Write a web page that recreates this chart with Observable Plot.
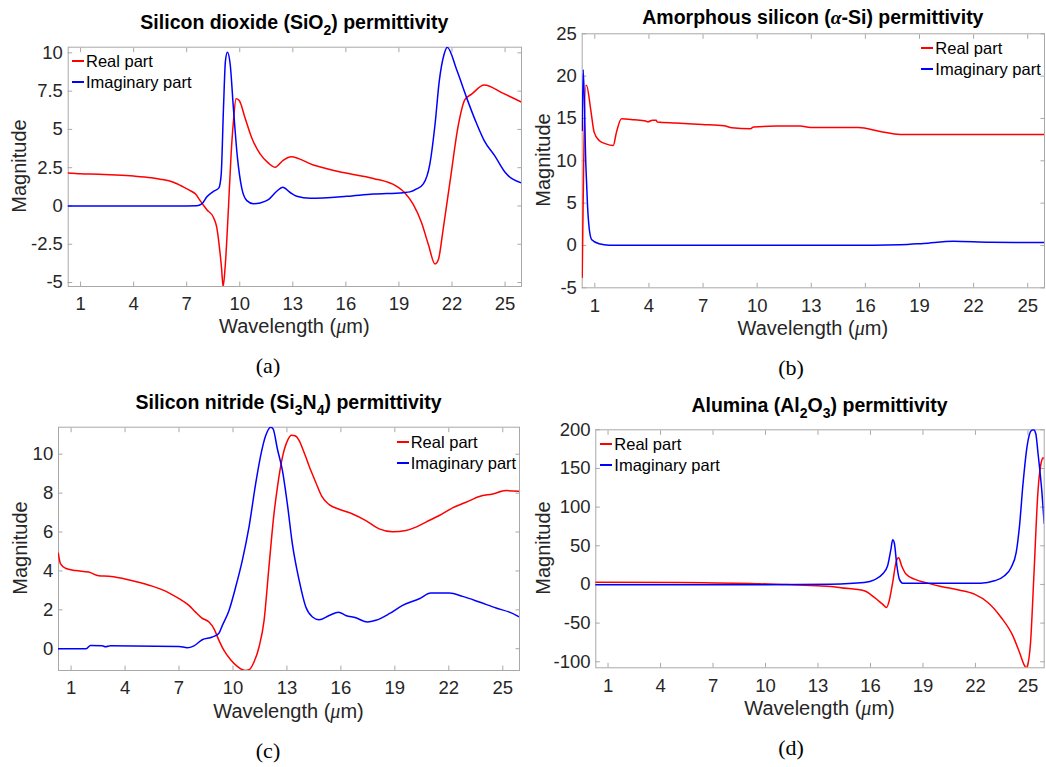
<!DOCTYPE html>
<html>
<head>
<meta charset="utf-8">
<script src="https://cdn.jsdelivr.net/npm/d3@7"></script>
<script src="https://cdn.jsdelivr.net/npm/@observablehq/plot@0.6"></script>
<style>
  body { margin: 0; background: #fff; }
  #root { position: relative; width: 1046px; height: 767px; overflow: hidden; font-family: "Liberation Sans", Arial, sans-serif; background: #fff; }
  .panel { position: absolute; width: 523px; height: 383px; }
  .panel svg { position: absolute; left: 0; top: 0; overflow: visible; }
  .title { position: absolute; font-weight: bold; font-size: 19.5px; line-height: 1; white-space: nowrap; transform: translate(-50%, -50%); color: #000; }
  .title sub { font-size: 0.72em; vertical-align: -0.38em; line-height: 0; }
  .xlabel { position: absolute; font-size: 20px; line-height: 1; color: #262626; transform: translate(-50%, -50%); white-space: nowrap; }
  .ylabel { position: absolute; font-size: 20px; line-height: 1; color: #262626; transform: translate(-50%, -50%) rotate(-90deg); white-space: nowrap; }
  .caption { position: absolute; font-family: "Liberation Serif", "Times New Roman", serif; font-size: 22px; line-height: 1; transform: translate(-50%, -50%); color: #000; }
  .legend { position: absolute; font-size: 16.5px; color: #000; }
  .legend .row { display: flex; align-items: center; height: 20.7px; white-space: nowrap; }
  .legend .sw { display: inline-block; width: 12px; height: 2px; margin-right: 2px; flex: none; }
  .mu { font-family: "Liberation Serif", "Times New Roman", serif; font-style: italic; }
</style>
</head>
<body>
<div id="root"></div>
<script>
// ---------- shared axis values ----------
const xDomain = [0.3, 25.93];
const xTicks = [1, 4, 7, 10, 13, 16, 19, 22, 25];
const seriesNames = ["Real part", "Imaginary part"];
const seriesColors = ["#ff0000", "#0000ff"];

// ---------- (a) Silicon dioxide ----------
const sio2Real = [[0.29,2.16],[1,2.1],[2,2.07],[3,2.02],[4,1.95],[5,1.84],[5.5,1.75],[6.25,1.55],[6.8,1.25],[7.2,1.0],[7.5,0.78],[7.76,0.35],[7.95,0.05],[8.14,-0.25],[8.5,-0.72],[8.7,-1.4],[8.85,-2.7],[8.97,-4.05],[9.06,-5.26],[9.17,-4.05],[9.36,-0.15],[9.51,3.36],[9.64,5.5],[9.79,7.0],[9.96,6.9],[10.3,5.75],[10.68,4.44],[11.15,3.4],[11.62,2.8],[12.0,2.53],[12.47,3.0],[12.9,3.22],[14.16,2.68],[15.86,2.18],[17.55,1.8],[18.87,1.28],[19.34,0.85],[19.81,0.1],[20.28,-1.1],[20.66,-2.5],[21.04,-3.79],[21.23,-3.5],[21.51,-1.44],[21.89,1.6],[22.36,5.3],[22.73,6.95],[23.11,7.3],[23.82,7.9],[24.9,7.35],[25.93,6.78]];
const sio2Imag = [[0.29,0],[4,0],[7,0],[7.57,0.01],[7.85,0.13],[8.14,0.6],[8.51,0.95],[8.82,1.18],[8.95,2.05],[9.08,6.4],[9.19,9.46],[9.3,10.04],[9.46,9.24],[9.64,6.4],[9.87,3.14],[10.11,1.18],[10.4,0.35],[10.77,0.15],[11.15,0.2],[11.62,0.41],[12.09,0.96],[12.43,1.22],[12.85,0.88],[13.22,0.63],[13.98,0.5],[16.05,0.63],[17.55,0.78],[19.25,0.87],[19.62,0.92],[20.0,1.11],[20.38,1.44],[20.75,2.75],[21.04,5.32],[21.28,8.15],[21.55,9.89],[21.73,10.37],[22.26,8.91],[22.83,7.06],[23.3,5.64],[23.82,4.27],[24.43,3.25],[25.0,2.2],[25.93,1.5]];
const sio2YTicks = [-5, -2.5, 0, 2.5, 5, 7.5, 10];
const sio2YDomain = [-5.26, 10.37];

// ---------- (b) Amorphous silicon ----------
const asiReal = [[0.3,-3.74],[0.5,18.9],[0.54,18.9],[0.78,15.94],[0.96,13.39],[1.24,12.4],[1.61,12.0],[2.02,11.81],[2.2,13.39],[2.48,14.96],[3.18,14.84],[3.82,14.69],[3.95,14.6],[4.19,14.8],[4.4,14.78],[4.47,14.57],[5.49,14.45],[6.96,14.29],[8.16,14.13],[8.6,13.9],[9.62,13.78],[9.8,13.98],[11.1,14.1],[12.4,14.1],[12.95,13.94],[15.62,13.94],[16.82,13.46],[17.93,13.11],[25.93,13.11]];
const asiImag = [[0.3,13.58],[0.36,20.75],[0.5,9.64],[0.59,4.92],[0.69,1.97],[0.83,0.67],[1.24,0.2],[1.79,0.04],[5,0.02],[10,0.02],[15,0.02],[17.93,0.08],[19.22,0.24],[20.88,0.51],[22.9,0.39],[25.93,0.35]];
const asiYTicks = [-5, 0, 5, 10, 15, 20, 25];
const asiYDomain = [-5, 25];

// ---------- (c) Silicon nitride ----------
const sinReal = [[0.29,4.91],[0.41,4.37],[0.68,4.14],[1.24,4.02],[1.98,3.94],[2.54,3.75],[3.1,3.72],[3.65,3.65],[4.58,3.46],[5.51,3.22],[6.25,2.96],[7.0,2.57],[7.55,2.23],[7.92,1.88],[8.26,1.59],[8.67,1.37],[8.94,1.03],[9.22,0.43],[9.5,-0.09],[9.87,-0.57],[10.24,-0.91],[10.52,-1.08],[10.7,-1.12],[10.89,-1.08],[11.17,-0.68],[11.45,0.09],[11.73,1.46],[12.0,4.2],[12.28,6.93],[12.47,8.3],[12.75,9.85],[13.03,10.7],[13.25,10.98],[13.45,10.95],[13.68,10.7],[13.95,10.1],[14.33,9.16],[14.6,8.56],[14.94,7.83],[15.35,7.41],[15.9,7.17],[16.65,6.93],[17.39,6.59],[18.13,6.16],[18.87,6.01],[19.62,6.08],[20.17,6.25],[20.73,6.51],[21.47,6.85],[22.21,7.24],[22.96,7.53],[23.7,7.83],[24.44,7.96],[25.18,8.13],[25.93,8.1]];
const sinImag = [[0.29,0],[1.84,0],[2.08,0.17],[2.73,0.15],[2.91,0.1],[3.19,0.15],[7.0,0.12],[7.46,0.05],[7.83,0.15],[8.29,0.46],[8.85,0.6],[9.22,0.8],[9.41,1.2],[9.78,1.97],[10.15,3.17],[10.52,4.54],[10.89,6.25],[11.26,8.48],[11.54,9.93],[11.82,10.96],[12.1,11.39],[12.23,11.3],[12.47,10.27],[12.75,9.16],[13.03,7.4],[13.3,5.4],[13.68,3.51],[14.05,2.14],[14.42,1.63],[14.79,1.49],[15.35,1.71],[15.87,1.88],[16.27,1.71],[16.83,1.59],[17.48,1.37],[17.94,1.46],[18.69,1.8],[19.43,2.23],[20.36,2.57],[21.0,2.86],[22.03,2.86],[22.77,2.69],[23.7,2.4],[24.63,2.09],[25.37,1.88],[25.93,1.63]];
const sinYTicks = [0, 2, 4, 6, 8, 10];
const sinYDomain = [-1.12, 11.39];

// ---------- (d) Alumina ----------
const alReal = [[0.29,3.0],[5,2.5],[9.5,1.0],[11,0],[12.95,-1.7],[13.73,-2.6],[14.3,-4.3],[15.64,-8.2],[16.22,-16.8],[16.69,-25.5],[16.92,-29.8],[17.07,-21.1],[17.27,2.6],[17.46,28.5],[17.61,34.5],[17.78,24.2],[18.03,13.4],[18.51,6.9],[19.27,1.7],[20.03,-2.6],[20.99,-6.9],[21.94,-12.5],[22.71,-23.3],[23.47,-42.7],[24.14,-66.5],[24.52,-88],[24.81,-105],[24.9,-107.8],[24.96,-106],[25.15,-75],[25.34,11],[25.57,119],[25.76,158],[25.88,164],[25.93,162]];
const alImag = [[0.29,-0.5],[10,-0.3],[13.73,0.4],[15.64,2.6],[16.22,6],[16.69,13.4],[16.98,24.2],[17.17,45.7],[17.27,57.8],[17.36,54],[17.51,24.2],[17.65,6.9],[17.84,1.7],[19.46,1.7],[22.3,1.7],[23.09,4.7],[23.66,11.2],[24.04,22],[24.33,41.4],[24.52,76],[24.71,128],[24.96,180],[25.19,199],[25.32,200],[25.45,195],[25.57,171],[25.8,119],[25.93,79]];
const alYTicks = [-100, -50, 0, 50, 100, 150, 200];
const alYDomain = [-107.8, 200];

// ---------- panel layout ----------
const panels = [
  { left: 0, top: 0, real: sio2Real, imag: sio2Imag, yTicks: sio2YTicks, yDomain: sio2YDomain,
    m: [46.7, 2, 34, 67.7], h: 320,
    title: 'Silicon dioxide (SiO<sub>2</sub>) permittivity', titleY: 22.5,
    xlabelY: 326, ylabelX: 19, caption: "(a)", captionY: 367.5,
    legend: { x: 72, y: 61 } },
  { left: 523, top: 0, real: asiReal, imag: asiImag, yTicks: asiYTicks, yDomain: asiYDomain,
    m: [33.3, 2, 33.7, 58.7], h: 321,
    title: 'Amorphous silicon (<i class="mu">α</i>-Si) permittivity', titleY: 18,
    xlabelY: 328.3, ylabelX: 20, caption: "(b)", captionY: 370,
    legend: { x: 398.3, y: 48.7 } },
  { left: 0, top: 383, real: sinReal, imag: sinImag, yTicks: sinYTicks, yDomain: sinYDomain,
    m: [43.7, 4, 33, 58], h: 320,
    title: 'Silicon nitride (Si<sub>3</sub>N<sub>4</sub>) permittivity', titleY: 20,
    xlabelY: 328.3, ylabelX: 20, caption: "(c)", captionY: 370,
    legend: { x: 396.7, y: 59 } },
  { left: 523, top: 383, real: alReal, imag: alImag, yTicks: alYTicks, yDomain: alYDomain,
    m: [46.3, 2.3, 35.7, 72.3], h: 320,
    title: 'Alumina (Al<sub>2</sub>O<sub>3</sub>) permittivity', titleY: 23,
    xlabelY: 324.5, ylabelX: 20, caption: "(d)", captionY: 366.7,
    legend: { x: 77.3, y: 61 } }
];

const root = document.getElementById("root");
const axisGray = "#a8a8a8";
const textGray = "#262626";
const W = 523;

for (const p of panels) {
  const [mt, mr, mb, ml] = p.m;
  const div = document.createElement("div");
  div.className = "panel";
  div.style.left = p.left + "px";
  div.style.top = p.top + "px";

  const svg = Plot.plot({
    width: W, height: p.h,
    marginTop: mt, marginRight: mr, marginBottom: mb, marginLeft: ml,
    x: { domain: xDomain },
    y: { domain: p.yDomain },
    style: { fontFamily: '"Liberation Sans", Arial, sans-serif', fontSize: "18.5px", color: textGray, background: "transparent", overflow: "visible" },
    marks: [
      Plot.frame({ stroke: axisGray, strokeWidth: 1 }),
      Plot.axisX(xTicks, { anchor: "bottom", tickSize: 0, tickPadding: 10.8, tickFormat: d => String(d), label: null, fill: textGray }),
      Plot.axisX(xTicks, { anchor: "bottom", tickSize: -4.5, fill: "none", label: null, stroke: axisGray }),
      Plot.axisX(xTicks, { anchor: "top", tickSize: -4.5, fill: "none", label: null, stroke: axisGray }),
      Plot.axisY(p.yTicks, { anchor: "left", tickSize: 0, tickPadding: 5.3, tickFormat: d => String(d), label: null, fill: textGray }),
      Plot.axisY(p.yTicks, { anchor: "left", tickSize: -4.5, fill: "none", label: null, stroke: axisGray }),
      Plot.axisY(p.yTicks, { anchor: "right", tickSize: -4.5, fill: "none", label: null, stroke: axisGray }),
      Plot.line(p.real, { x: d => d[0], y: d => d[1], stroke: seriesColors[0], strokeWidth: 1.5, curve: "monotone-x", clip: true }),
      Plot.line(p.imag, { x: d => d[0], y: d => d[1], stroke: seriesColors[1], strokeWidth: 1.5, curve: "monotone-x", clip: true })
    ]
  });
  div.appendChild(svg);

  const cx = ml + (W - ml - mr) / 2;
  const cy = mt + (p.h - mt - mb) / 2;

  const title = document.createElement("div");
  title.className = "title";
  title.innerHTML = p.title;
  title.style.left = cx + "px";
  title.style.top = p.titleY + "px";
  div.appendChild(title);

  const xl = document.createElement("div");
  xl.className = "xlabel";
  xl.innerHTML = 'Wavelength (<span class="mu">μ</span>m)';
  xl.style.left = cx + "px";
  xl.style.top = p.xlabelY + "px";
  div.appendChild(xl);

  const yl = document.createElement("div");
  yl.className = "ylabel";
  yl.textContent = "Magnitude";
  yl.style.left = p.ylabelX + "px";
  yl.style.top = cy + "px";
  div.appendChild(yl);

  const cap = document.createElement("div");
  cap.className = "caption";
  cap.textContent = p.caption;
  cap.style.left = "268px";
  cap.style.top = (p.captionY - 2) + "px";
  div.appendChild(cap);

  const lg = document.createElement("div");
  lg.className = "legend";
  lg.style.left = p.legend.x + "px";
  lg.style.top = Math.round(p.legend.y - 10.35) + "px";
  seriesNames.forEach((name, i) => {
    const row = document.createElement("div");
    row.className = "row";
    const sw = document.createElement("span");
    sw.className = "sw";
    sw.style.background = seriesColors[i];
    const t = document.createElement("span");
    t.textContent = name;
    row.appendChild(sw);
    row.appendChild(t);
    lg.appendChild(row);
  });
  div.appendChild(lg);

  root.appendChild(div);
}
</script>
</body>
</html>
